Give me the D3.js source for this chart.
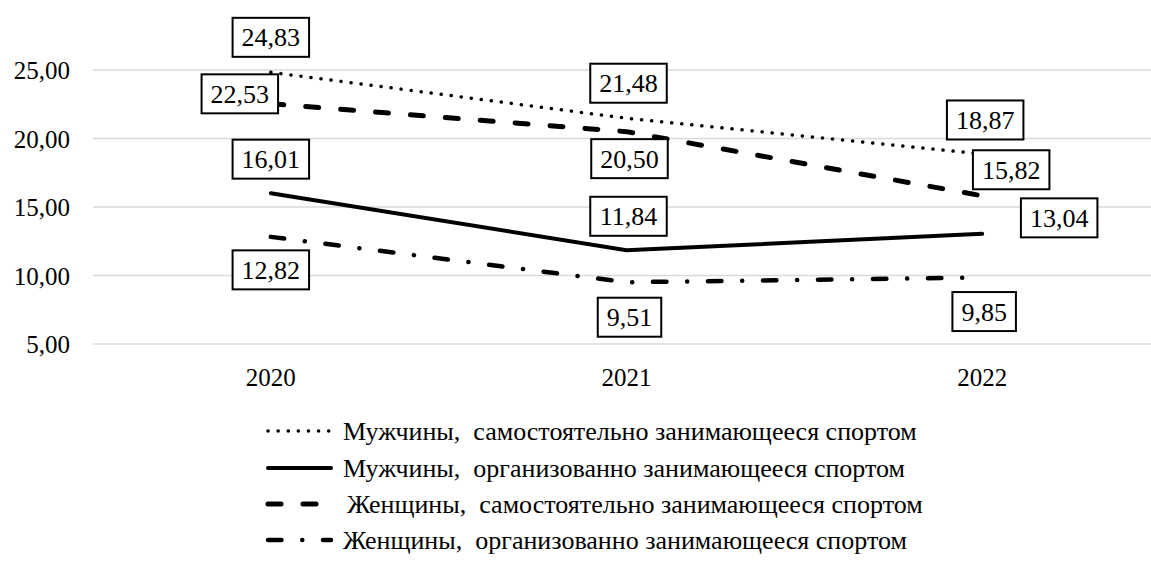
<!DOCTYPE html>
<html><head><meta charset="utf-8">
<script src="https://cdn.jsdelivr.net/npm/d3@7"></script>
</head>
<body style="margin:0">
<svg id="c" width="1151" height="579"></svg>
<script>
const FONT = "Liberation Serif, serif";
const years = ["2020", "2021", "2022"];
const seriesNames = [
  "Мужчины,\u00a0 самостоятельно занимающееся спортом",
  "Мужчины,\u00a0 организованно занимающееся спортом",
  "Женщины,\u00a0 самостоятельно занимающееся спортом",
  "Женщины,\u00a0 организованно занимающееся спортом"
];
const menSelf = [24.83, 21.48, 18.87];
const menOrg = [16.01, 11.84, 13.04];
const womenSelf = [22.53, 20.50, 15.82];
const womenOrg = [12.82, 9.51, 9.85];
const yTicks = [5, 10, 15, 20, 25];

// styling / label placement (not data)
const styles = [
  {width: 3.5, dash: "0.1 10", cap: "round"},
  {width: 4, dash: null, cap: "round"},
  {width: 5, dash: "13 22", cap: "round"},
  {width: 4.5, dash: "13.5 20.7 0.1 20.7", cap: "round"}
];
const labelOffsets = [
  [[0, -35], [2, -35], [3, -34]],
  [[0, -34], [2, -34], [77, -16]],
  [[-31, -10], [3, 27], [29, -26]],
  [[0, 33], [3, 35], [2, 34]]
];

const allSeries = [menSelf, menOrg, womenSelf, womenOrg];
const fmt = v => v.toFixed(2).replace(".", ",");

const svg = d3.select("#c");
const x = d3.scaleBand().domain(years).range([93, 1160]).padding(0);
const y = d3.scaleLinear().domain([5, 25]).range([344, 70]);
const cx = d => x(d) + x.bandwidth() / 2;

// gridlines
svg.append("g").selectAll("line").data(yTicks).join("line")
  .attr("x1", 93).attr("x2", 1151)
  .attr("y1", d => y(d)).attr("y2", d => y(d))
  .attr("stroke", "#d9d9d9").attr("stroke-width", 1.3);

// y axis labels
const gy = svg.append("g").attr("transform", "translate(70,0)")
  .call(d3.axisLeft(y).tickValues(yTicks).tickFormat(fmt).tickSize(0).tickPadding(0));
gy.attr("font-family", FONT).attr("font-size", 25);
gy.select(".domain").remove();
gy.selectAll("text").attr("dy", "0.34em").attr("fill", "#000")
  .attr("font-family", FONT).attr("font-size", 25);

// x axis labels
const gx = svg.append("g").attr("transform", "translate(0,360)")
  .call(d3.axisBottom(x).tickSize(0).tickPadding(0));
gx.attr("font-family", FONT).attr("font-size", 25);
gx.select(".domain").remove();
gx.selectAll("text").attr("dy", "1.04em").attr("y", 0).attr("fill", "#000")
  .attr("font-family", FONT).attr("font-size", 25);

// lines
const line = d3.line().x((d, i) => cx(years[i])).y(d => y(d));
allSeries.forEach((s, k) => {
  svg.append("path").datum(s).attr("d", line)
    .attr("fill", "none").attr("stroke", "#000")
    .attr("stroke-width", styles[k].width)
    .attr("stroke-linecap", styles[k].cap)
    .attr("stroke-dasharray", styles[k].dash);
});

// data labels
allSeries.forEach((s, k) => {
  s.forEach((v, i) => {
    const px = cx(years[i]) + labelOffsets[k][i][0];
    const py = y(v) + labelOffsets[k][i][1];
    const label = fmt(v);
    const w = (label.length - 1) * 13 + 6.5 + 18;
    svg.append("rect").attr("x", px - w / 2).attr("y", py - 19.5).attr("width", w).attr("height", 39)
      .attr("fill", "#fff").attr("stroke", "#000").attr("stroke-width", 2);
    svg.append("text").attr("x", px).attr("y", py + 9)
      .attr("font-size", 26).attr("font-family", FONT).attr("fill", "#000")
      .attr("text-anchor", "middle").text(label);
  });
});

// legend
const legRows = [431, 468, 504, 540];
seriesNames.forEach((name, k) => {
  svg.append("line").attr("x1", 268).attr("x2", 331)
    .attr("y1", legRows[k]).attr("y2", legRows[k])
    .attr("stroke", "#000").attr("stroke-width", styles[k].width)
    .attr("stroke-linecap", styles[k].cap)
    .attr("stroke-dasharray", styles[k].dash);
  svg.append("text").attr("x", k === 2 ? 347 : 343).attr("y", legRows[k] + 8.5)
    .attr("font-size", 26).attr("font-family", FONT).attr("fill", "#000").text(name);
});
</script>
</body></html>
